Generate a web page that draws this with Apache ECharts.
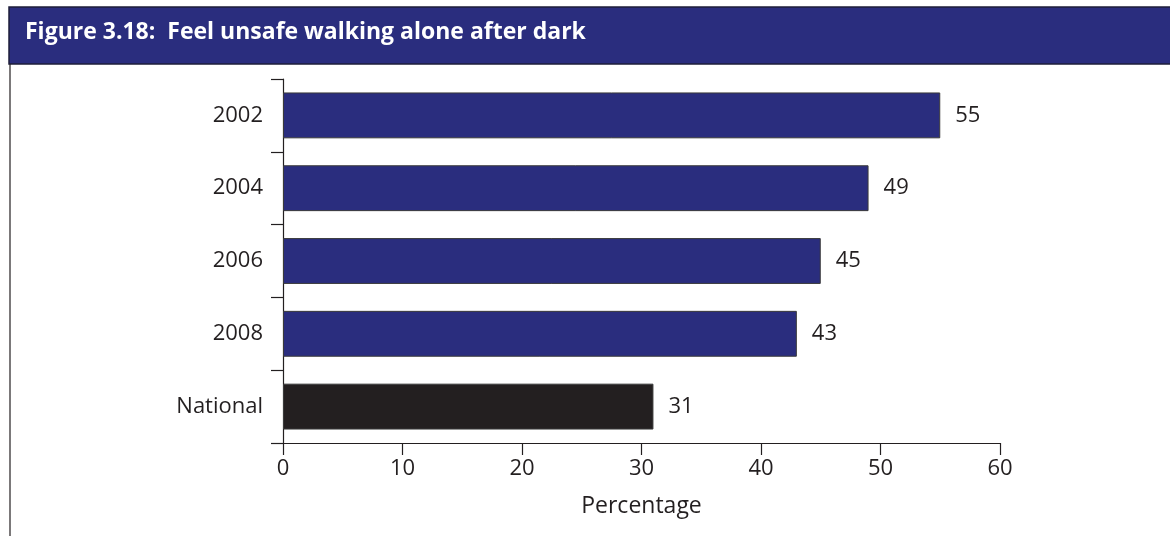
<!DOCTYPE html>
<html>
<head>
<meta charset="utf-8">
<script src="https://cdn.jsdelivr.net/npm/echarts@6/dist/echarts.min.js"></script>
<style>
  html, body { margin: 0; padding: 0; background: #ffffff; }
  #chart { width: 1170px; height: 536px; }
</style>
</head>
<body>
<div id="chart"></div>
<script>
// Share of respondents who feel unsafe walking alone after dark
const categories = ['2002', '2004', '2006', '2008', 'National'];
const values = [55, 49, 45, 43, 31];
const xTicks = [0, 10, 20, 30, 40, 50, 60];

const titleText = 'Figure 3.18:  Feel unsafe walking alone after dark';
const axisName = 'Percentage';

const BLUE = '#2a2d7e';
const BLACK = '#231f20';
const INK = '#231f20';
const FONT = '"Open Sans", "Noto Sans", sans-serif';

const chart = echarts.init(document.getElementById('chart'), null, { renderer: 'canvas' });

chart.setOption({
  backgroundColor: '#ffffff',
  animation: false,
  textStyle: { fontFamily: FONT },
  graphic: [
    {
      type: 'rect',
      shape: { x: 9, y: 7, width: 1170, height: 57 },
      style: { fill: BLUE, stroke: '#1e1e3a', lineWidth: 1.5 },
      z: 0
    },
    {
      type: 'text',
      left: 25,
      top: 21,
      style: {
        text: titleText,
        fill: '#ffffff',
        font: 'bold 23px ' + FONT
      },
      z: 1
    },
    {
      type: 'line',
      shape: { x1: 10, y1: 64, x2: 10, y2: 536 },
      style: { stroke: INK, lineWidth: 1.2 },
      z: 0
    }
  ],
  grid: { left: 283, right: 170, top: 79, bottom: 93, containLabel: false },
  xAxis: {
    type: 'value',
    min: xTicks[0],
    max: xTicks[xTicks.length - 1],
    interval: 10,
    splitLine: { show: false },
    axisLine: { show: true, lineStyle: { color: INK, width: 1.2 } },
    axisTick: { show: true, length: 12, lineStyle: { color: INK, width: 1.2 } },
    axisLabel: { color: INK, fontSize: 22, margin: 15, fontFamily: FONT },
    name: axisName,
    nameLocation: 'middle',
    nameGap: 52,
    nameTextStyle: { color: INK, fontSize: 23, fontFamily: FONT }
  },
  yAxis: {
    type: 'category',
    data: categories,
    inverse: true,
    axisLine: { show: true, lineStyle: { color: INK, width: 1.2 } },
    axisTick: { show: true, length: 12, inside: false, lineStyle: { color: INK, width: 1.2 } },
    axisLabel: { color: INK, fontSize: 22, margin: 20, fontFamily: FONT }
  },
  series: [{
    type: 'bar',
    data: values.map((v, i) => ({
      value: v,
      itemStyle: { color: categories[i] === 'National' ? BLACK : BLUE }
    })),
    barCategoryGap: '37%',
    itemStyle: { borderColor: '#3a3a3a', borderWidth: 1 },
    label: {
      show: true,
      position: 'right',
      distance: 15,
      color: INK,
      fontSize: 22,
      fontFamily: FONT
    }
  }]
});
</script>
</body>
</html>
